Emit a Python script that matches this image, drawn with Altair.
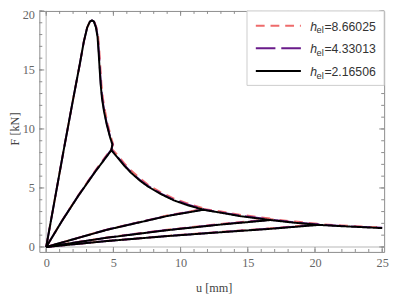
import altair as alt
import pandas as pd

MESHES = ["8.66025", "4.33013", "2.16506"]
COLORS = ["#EE6B6B", "#6A1B8A", "#000000"]
DASHES = [[9, 6], [20, 6], [1, 0]]

# Curve 1 (steep), per mesh
C1_U_R = [0, 1.3, 2.0, 2.5, 2.8, 3.05, 3.25, 3.42, 3.58, 3.74, 3.87, 3.96, 4.03, 4.11, 4.22, 4.38, 4.58, 4.82, 4.98, 4.9]
C1_F_R = [0, 8.2, 12.5, 15.5, 17.4, 18.6, 19.1, 19.2, 19.1, 18.6, 17.8, 16.5, 15.2, 13.8, 12.6, 11.5, 10.4, 9.3, 8.7, 8.35]
C1_U_P = [0, 1.3, 2.0, 2.5, 2.8, 3.05, 3.25, 3.41, 3.56, 3.72, 3.84, 3.92, 3.99, 4.07, 4.17, 4.32, 4.52, 4.77, 4.94, 4.86]
C1_F_P = [0, 8.2, 12.5, 15.5, 17.4, 18.6, 19.1, 19.2, 19.1, 18.6, 17.8, 16.5, 15.2, 13.8, 12.6, 11.5, 10.4, 9.3, 8.7, 8.25]
C1_U_K = [0, 1.3, 2.0, 2.5, 2.8, 3.05, 3.25, 3.4, 3.55, 3.7, 3.82, 3.9, 3.97, 4.05, 4.15, 4.3, 4.5, 4.75, 4.92, 4.85]
C1_F_K = [0, 8.2, 12.5, 15.5, 17.4, 18.6, 19.1, 19.2, 19.1, 18.6, 17.8, 16.5, 15.2, 13.8, 12.6, 11.5, 10.4, 9.3, 8.7, 8.2]

# Curves 2-5: shared u, F per mesh
C2_U = [0, 1.2, 2.4, 3.6, 4.85, 5.3, 5.8, 6.3, 7.0, 7.6, 8.5, 9.5, 10.5, 11.7]
C2_F_R = [0, 2.27, 4.4, 6.38, 8.35, 7.8, 7.1, 6.5, 5.8, 5.25, 4.65, 4.1, 3.7, 3.28]
C2_F_P = [0, 2.26, 4.37, 6.33, 8.25, 7.65, 6.95, 6.35, 5.65, 5.15, 4.55, 4.0, 3.6, 3.2]
C2_F_K = [0, 2.25, 4.35, 6.3, 8.2, 7.6, 6.9, 6.3, 5.6, 5.1, 4.5, 3.95, 3.55, 3.15]

C3_U = [0, 4.5, 9.0, 11.7, 13.0, 14.5, 16.7]
C3_F_R = [0, 1.47, 2.66, 3.22, 3.0, 2.72, 2.4]
C3_F_P = [0, 1.46, 2.64, 3.18, 2.93, 2.64, 2.32]
C3_F_K = [0, 1.45, 2.62, 3.15, 2.9, 2.6, 2.28]

C4_U = [0, 4.5, 9.0, 13.0, 16.7, 18.5, 20.3]
C4_F_R = [0, 0.8, 1.46, 1.95, 2.36, 2.15, 1.96]
C4_F_P = [0, 0.79, 1.44, 1.92, 2.31, 2.08, 1.9]
C4_F_K = [0, 0.78, 1.42, 1.9, 2.28, 2.05, 1.87]

C5_U = [0, 4.5, 9.0, 13.0, 16.5, 20.3, 22.0, 23.5, 25.0]
C5_F_R = [0, 0.51, 0.94, 1.28, 1.56, 1.94, 1.82, 1.73, 1.64]
C5_F_P = [0, 0.5, 0.93, 1.26, 1.54, 1.9, 1.78, 1.7, 1.62]
C5_F_K = [0, 0.5, 0.92, 1.25, 1.52, 1.87, 1.76, 1.68, 1.6]

X_MAJOR = [0, 5, 10, 15, 20, 25]
X_MINOR = list(range(0, 26))
Y_MAJOR = [0, 5, 10, 15, 20]
Y_MINOR = list(range(0, 21))

W, H = 352, 246
XDOM = [-0.51, 25.145]
YDOM = [-0.42, 20.0]

curves = {
    "8.66025": [(C1_U_R, C1_F_R), (C2_U, C2_F_R), (C3_U, C3_F_R), (C4_U, C4_F_R), (C5_U, C5_F_R)],
    "4.33013": [(C1_U_P, C1_F_P), (C2_U, C2_F_P), (C3_U, C3_F_P), (C4_U, C4_F_P), (C5_U, C5_F_P)],
    "2.16506": [(C1_U_K, C1_F_K), (C2_U, C2_F_K), (C3_U, C3_F_K), (C4_U, C4_F_K), (C5_U, C5_F_K)],
}
rows = []
for m, cl in curves.items():
    for ci, (us, fs) in enumerate(cl):
        for i, (u, f) in enumerate(zip(us, fs)):
            rows.append({"mesh": m, "key": f"{m}-{ci}", "i": i, "u": u, "F": f})
df = pd.DataFrame(rows)

xs = alt.Scale(domain=XDOM, nice=False, zero=False)
ys = alt.Scale(domain=YDOM, nice=False, zero=False)
LBL = dict(labelFont="Liberation Serif", labelFontSize=12.5, labelColor="#666",
           titleFont="Liberation Serif", titleFontSize=12.5, titleFontWeight="normal",
           titleColor="#444", ticks=False, domain=False, grid=False)

xaxis = alt.Axis(values=X_MAJOR, title="u [mm]", labelPadding=5, titleX=178, titleY=36,
                 titleBaseline="middle", **LBL)
yaxis = alt.Axis(values=Y_MAJOR, title="F [kN]", labelPadding=5, titleX=-25, titleY=120,
                 titleAngle=-90, titleBaseline="middle",
                 labelOffset={"condition": {"test": "datum.value == 20", "value": 4}, "value": 0},
                 **LBL)

gray = "#8a8a8a"
# zero axes
zx = alt.Chart(pd.DataFrame({"u": [0]})).mark_rule(color="#cfcfcf", strokeWidth=1.5).encode(
    x=alt.X("u:Q", scale=xs, axis=xaxis))
zy = alt.Chart(pd.DataFrame({"F": [0]})).mark_rule(color="#cfcfcf", strokeWidth=1.5).encode(
    y=alt.Y("F:Q", scale=ys, axis=yaxis))

def xticks(vals, ln):
    d = pd.DataFrame({"u": vals})
    b = alt.Chart(d).mark_rule(color=gray, strokeWidth=1).encode(
        x=alt.X("u:Q", scale=xs), y=alt.value(H), y2=alt.value(H - ln))
    t = alt.Chart(d).mark_rule(color=gray, strokeWidth=1).encode(
        x=alt.X("u:Q", scale=xs), y=alt.value(0), y2=alt.value(ln))
    return [b, t]

def yticks(vals, ln):
    d = pd.DataFrame({"F": vals})
    l = alt.Chart(d).mark_rule(color=gray, strokeWidth=1).encode(
        y=alt.Y("F:Q", scale=ys), x=alt.value(0), x2=alt.value(ln))
    r = alt.Chart(d).mark_rule(color=gray, strokeWidth=1).encode(
        y=alt.Y("F:Q", scale=ys), x=alt.value(W), x2=alt.value(W - ln))
    return [l, r]

tick_layers = xticks(X_MINOR, 3) + xticks(X_MAJOR, 5) + yticks(Y_MINOR, 3) + yticks(Y_MAJOR, 5)

line_layers = []
for m, c, d in zip(MESHES, COLORS, DASHES):
    line_layers.append(
        alt.Chart(df).transform_filter(alt.datum.mesh == m).mark_line(
            color=c, strokeWidth=2, strokeDash=d, strokeJoin="round").encode(
            x=alt.X("u:Q", scale=xs), y=alt.Y("F:Q", scale=ys),
            detail="key:N", order="i:Q")
    )

one = pd.DataFrame({"v": [0]})
legend_layers = [
    alt.Chart(one).mark_rect(fill="white", stroke="#cccccc", strokeWidth=1).encode(
        x=alt.value(212), x2=alt.value(352), y=alt.value(0), y2=alt.value(76))
]
LROW = [15, 38, 61.3]
for m, c, d, ry in zip(MESHES, COLORS, DASHES, LROW):
    legend_layers.append(alt.Chart(one).mark_rule(color=c, strokeWidth=2, strokeDash=d).encode(
        x=alt.value(221), x2=alt.value(267), y=alt.value(ry)))
    legend_layers.append(alt.Chart(one).mark_text(text="h", font="Liberation Sans", fontSize=12.5,
        fontStyle="italic", color="#333", align="left", baseline="alphabetic").encode(
        x=alt.value(276.5), y=alt.value(ry + 5)))
    legend_layers.append(alt.Chart(one).mark_text(text="el", font="Liberation Sans", fontSize=9.5,
        color="#333", align="left", baseline="alphabetic").encode(
        x=alt.value(283), y=alt.value(ry + 8)))
    legend_layers.append(alt.Chart(one).mark_text(text="=" + m, font="Liberation Sans", fontSize=12.5,
        color="#333", align="left", baseline="alphabetic").encode(
        x=alt.value(291), y=alt.value(ry + 5)))

chart = alt.layer(zx, zy, *tick_layers, *line_layers, *legend_layers).properties(
    width=W, height=H,
    autosize=alt.AutoSizeParams(type="none"),
    padding={"left": 32, "top": 0, "right": 7, "bottom": 43},
).configure_view(stroke=gray, strokeWidth=1)

chart.save("out.html", embed_options={"renderer": "svg", "actions": False})
